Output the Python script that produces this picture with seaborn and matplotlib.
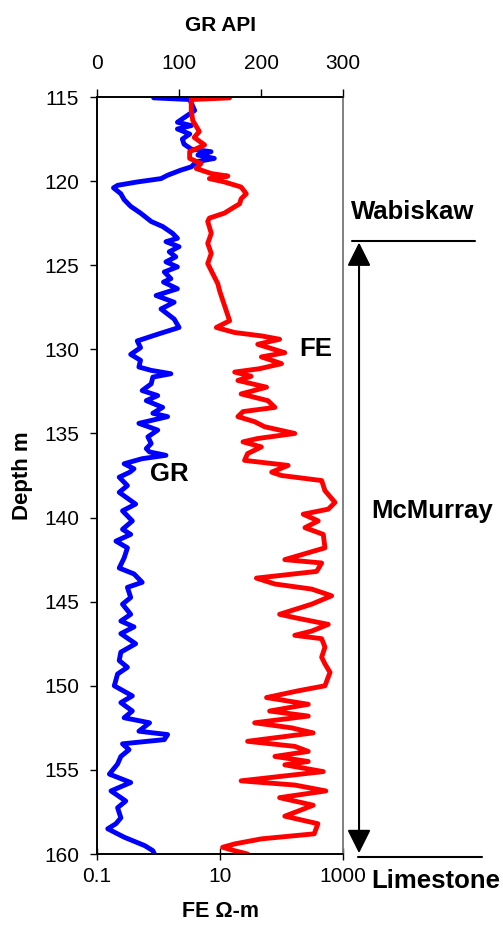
import matplotlib
matplotlib.use("Agg")
import matplotlib.pyplot as plt
import matplotlib.transforms as mtransforms
import seaborn as sns

# GR log (depth m, API)
gr_depth = [115.05, 115.15, 115.8, 116.5, 116.7, 116.9, 117.2, 117.5, 117.8, 118.1,
            118.25, 118.45, 118.65, 118.85, 119.15, 119.35, 119.65, 119.85, 120.05, 120.25,
            120.4, 120.75, 121.1, 121.5, 121.9, 122.4, 122.7, 123.1, 123.4, 123.6,
            123.9, 124.2, 124.5, 124.8, 125.1, 125.4, 125.8, 126.0, 126.4, 126.8,
            127.2, 127.6, 128.2, 128.7, 129.1, 129.5, 129.9, 130.3, 130.65, 131.05,
            131.25, 131.45, 131.65, 132.05, 132.45, 132.75, 133.05, 133.45, 133.8, 134.0,
            134.4, 134.8, 135.2, 135.6, 135.9, 136.1, 136.3, 136.5, 136.8, 137.1,
            137.3, 137.6, 138.1, 138.5, 139.2, 139.6, 140.2, 140.7, 141.0, 141.4,
            141.8, 142.4, 143.0, 143.35, 143.85, 144.15, 144.75, 145.15, 145.75, 146.15,
            146.5, 146.9, 147.5, 148.0, 148.5, 148.9, 149.3, 150.0, 150.6, 151.0,
            151.5, 151.9, 152.2, 152.7, 152.9, 153.2, 153.45, 153.8, 154.2, 154.65,
            155.25, 155.75, 156.25, 156.85, 157.25, 157.85, 158.2, 158.5, 159.0, 159.5,
            159.8, 160.0]
gr_api = [69, 113, 119, 98, 115, 98, 113, 104, 106, 115,
          139, 123, 143, 121, 115, 102, 86, 78, 49, 25,
          20, 29, 33, 41, 53, 66, 80, 92, 98, 84,
          100, 88, 96, 84, 98, 82, 90, 81, 98, 72,
          94, 78, 94, 100, 74, 49, 53, 41, 53, 51,
          66, 90, 68, 66, 55, 74, 60, 80, 68, 86,
          51, 74, 62, 66, 60, 64, 84, 55, 33, 45,
          40, 27, 37, 27, 47, 31, 43, 31, 41, 23,
          37, 33, 27, 45, 55, 37, 41, 31, 41, 29,
          45, 29, 47, 29, 27, 37, 25, 21, 43, 29,
          43, 33, 64, 51, 86, 82, 31, 39, 29, 25,
          15, 41, 17, 35, 25, 29, 23, 13, 33, 58,
          68, 70]

# FE log (depth m, ohm-m)
fe_depth = [115.05, 115.15, 115.8, 116.4, 117.05, 117.4, 117.85, 118.25, 118.65, 118.95,
            119.25, 119.55, 119.7, 119.85, 120.05, 120.35, 120.75, 121.05, 121.35, 121.65,
            121.9, 122.2, 122.4, 123.1, 123.7, 124.3, 124.9, 125.5, 126.1, 126.5,
            127.1, 127.7, 128.3, 128.7, 129.0, 129.2, 129.4, 129.7, 130.2, 130.45,
            130.85, 131.15, 131.35, 131.6, 131.85, 132.25, 132.65, 133.05, 133.45, 133.7,
            134.0, 134.3, 134.6, 135.0, 135.3, 135.5, 135.8, 136.2, 136.6, 136.9,
            137.3, 137.5, 137.8, 138.4, 139.1, 139.5, 139.8, 140.2, 140.6, 141.0,
            141.8, 142.5, 142.7, 143.2, 143.6, 143.95, 144.25, 144.65, 145.15, 145.75,
            145.95, 146.35, 146.75, 147.0, 147.2, 147.7, 148.3, 148.7, 149.2, 150.0,
            150.3, 150.7, 151.1, 151.5, 151.8, 152.2, 152.5, 152.8, 153.3, 153.6,
            153.9, 154.2, 154.5, 154.7, 155.1, 155.65, 155.9, 156.25, 156.65, 157.1,
            157.45, 157.75, 158.2, 158.8, 159.1, 159.4, 159.6, 159.8, 160.0]
fe_ohm = [14.3, 3.4, 3.4, 3.6, 4.6, 3.8, 5.6, 3.2, 3.2, 4.9,
          4.1, 7.2, 13.4, 6.7, 11.8, 22, 26.7, 22, 20.8, 15.2,
          11.8, 6.7, 6.3, 7.2, 6.3, 7.2, 6.3, 7.6, 9.2, 9.8,
          11.1, 12.6, 14.3, 8.7, 17.3, 47, 93, 41, 113, 47,
          100, 44, 17.3, 32, 19.5, 57, 22, 60, 78, 23.6,
          19.5, 36.5, 53, 164, 41, 23.6, 47, 28, 25, 128,
          69, 100, 449, 508, 740, 575, 225, 395, 240, 477,
          508, 113, 449, 372, 39, 78, 308, 653, 308, 93,
          164, 575, 308, 164, 449, 508, 449, 508, 614, 508,
          186, 57, 272, 64, 272, 36.5, 145, 327, 28, 164,
          272, 78, 272, 113, 477, 22, 164, 525, 93, 327,
          186, 113, 390, 340, 47, 17.3, 11, 17, 28]

gr_ticks = [0, 100, 200, 300]
fe_ticks = [0.1, 10, 1000]
fe_tick_labels = ["0.1", "10", "1000"]
depth_ticks = list(range(115, 161, 5))

sns.set_style("ticks")
plt.rcParams['font.family'] = ['Liberation Sans', 'DejaVu Sans']
plt.rcParams['font.size'] = 15
plt.rcParams['text.color'] = 'black'
plt.rcParams['axes.labelcolor'] = 'black'
plt.rcParams['xtick.color'] = 'black'
plt.rcParams['ytick.color'] = 'black'

fig = plt.figure(figsize=(5.03, 9.31), dpi=100)
ax = fig.add_axes([0.193, 0.0827, 0.489, 0.8131])
ax.set_xscale('log')
ax_gr = ax.twiny()

# red on top of blue
ax.set_zorder(2)
ax.patch.set_visible(False)

sns.lineplot(x=fe_ohm, y=fe_depth, ax=ax, sort=False, estimator=None,
             color='#ff0000', lw=3.5)
sns.lineplot(x=gr_api, y=gr_depth, ax=ax_gr, sort=False, estimator=None,
             color='#0000ff', lw=3.5)

ax.set_xlim(0.1, 1000)
ax_gr.set_xlim(0, 300)
ax.set_ylim(160, 115)

ax.set_xticks(fe_ticks)
ax.set_xticklabels(fe_tick_labels)
ax.xaxis.set_minor_locator(matplotlib.ticker.NullLocator())
ax.set_yticks(depth_ticks)
ax_gr.set_xticks(gr_ticks)

ax.tick_params(axis='x', direction='inout', length=8, width=1, pad=5, labelsize=15)
ax.tick_params(axis='y', direction='out', length=5, width=1, pad=8, labelsize=15)
ax_gr.tick_params(axis='x', direction='out', length=6, width=1, pad=11, labelsize=15)

for a in (ax, ax_gr):
    for s in a.spines.values():
        s.set_visible(True)
        s.set_color('black')
        s.set_linewidth(1.2)
    a.spines['right'].set_color('#808080')

ax.set_xlabel("FE Ω-m", fontweight='bold', fontsize=15.5, labelpad=11)
ax.set_ylabel("Depth m", fontweight='bold', fontsize=16, labelpad=8)
ax_gr.set_xlabel("GR API", fontweight='bold', fontsize=15, labelpad=17)

# curve labels
ax_gr.text(88, 137.4, "GR", fontweight='bold', fontsize=18.5, ha='center', va='center')
ax_gr.text(267, 130.0, "FE", fontweight='bold', fontsize=18.5, ha='center', va='center')

# formation markers to the right of the track
trans = mtransforms.blended_transform_factory(ax.transAxes, ax.transData)
ax.plot([1.037, 1.537], [123.55, 123.55], color='black', lw=1.5,
        transform=trans, clip_on=False)
ax.plot([1.061, 1.565], [160.15, 160.15], color='black', lw=1.5,
        transform=trans, clip_on=False)
ax.annotate("", xy=(1.065, 123.65), xytext=(1.065, 159.95),
            xycoords=trans, textcoords=trans, annotation_clip=False,
            arrowprops=dict(arrowstyle='<|-|>', color='black', lw=1.5,
                            mutation_scale=36, shrinkA=0, shrinkB=0))
ax.text(1.285, 121.85, "Wabiskaw", transform=trans, fontweight='bold',
        fontsize=18.5, ha='center', va='center', clip_on=False)
ax.text(1.362, 139.6, "McMurray", transform=trans, fontweight='bold',
        fontsize=18.5, ha='center', va='center', clip_on=False)
ax.text(1.378, 161.6, "Limestone", transform=trans, fontweight='bold',
        fontsize=18.5, ha='center', va='center', clip_on=False)

fig.savefig("out.png", dpi=100)
